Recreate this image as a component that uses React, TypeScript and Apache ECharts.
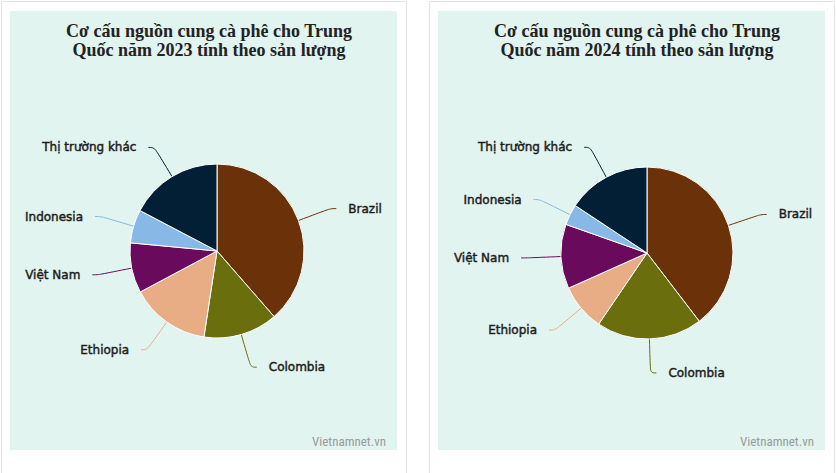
import React, { useEffect, useRef } from "react";
import * as echarts from "echarts";

const categories = ["Brazil", "Colombia", "Ethiopia", "Việt Nam", "Indonesia", "Thị trường khác"];
const values2023 = [38.6, 13.8, 14.8, 9.3, 6.2, 17.3];
const values2024 = [39.6, 19.9, 8.8, 12.1, 3.9, 15.7];
const colors = ["#6b3209", "#6a6e0c", "#e8ad85", "#6a0a5c", "#87b8e6", "#021f36"];
const titles = [
  "Cơ cấu nguồn cung cà phê cho Trung\nQuốc năm 2023 tính theo sản lượng",
  "Cơ cấu nguồn cung cà phê cho Trung\nQuốc năm 2024 tính theo sản lượng",
];
const watermark = "Vietnamnet.vn";

const MINT = "#e2f4ef";
const BORDER = "#e2e2e2";

function buildData(values: number[]) {
  return categories.map((name, i) => ({
    name,
    value: values[i],
    itemStyle: { color: colors[i] },
  }));
}

function pieSeries(values: number[], center: [number, number], radius: number) {
  return {
    type: "pie",
    center,
    radius,
    startAngle: 90,
    clockwise: true,
    avoidLabelOverlap: true,
    data: buildData(values),
    itemStyle: { borderColor: "#ffffff", borderWidth: 1 },
    label: {
      show: true,
      position: "outside",
      formatter: "{b}",
      color: "#1e1e1e",
      fontFamily: "DejaVu Sans",
      fontSize: 12,
      textBorderColor: "#1e1e1e",
      textBorderWidth: 0.45,
      padding: [5, 0, 0, 0],
      distanceToLabelLine: 12,
    },
    labelLine: {
      show: true,
      length: 34,
      length2: 6,
      smooth: 0.4,
      lineStyle: { width: 1 },
    },
    emphasis: { disabled: true },
  };
}

export default function App() {
  const ref = useRef<HTMLDivElement>(null);
  useEffect(() => {
    if (!ref.current) return;
    const chart = echarts.init(ref.current, undefined, { renderer: "svg" });
    const panels = [
      { ox: 1, ow: 405, mx: 10, mw: 387 },
      { ox: 429, ow: 405, mx: 438, mw: 387 },
    ];
    const graphics: any[] = [];
    panels.forEach((p) => {
      graphics.push({
        type: "rect",
        shape: { x: p.ox + 0.5, y: 1.5, width: p.ow, height: 480 },
        style: { fill: "#ffffff", stroke: BORDER, lineWidth: 1 },
        z: -10,
        silent: true,
      });
      graphics.push({
        type: "rect",
        shape: { x: p.mx, y: 11, width: p.mw, height: 439 },
        style: { fill: MINT },
        z: -9,
        silent: true,
      });
      graphics.push({
        type: "text",
        x: p.mx + p.mw - 11,
        y: 441,
        style: {
          text: watermark,
          fill: "#9a9a9a",
          font: '13px "Liberation Sans Narrow", "Roboto Condensed", sans-serif',
          align: "right",
          verticalAlign: "middle",
        },
        z: 5,
        silent: true,
      });
    });
    const titleStyle = {
      fontFamily: '"Liberation Serif", "Times New Roman", serif',
      fontWeight: "bold",
      fontSize: 18,
      lineHeight: 19,
      color: "#222222",
    };
    chart.setOption({
      animation: false,
      title: [
        { text: titles[0], left: 204, top: 16, textAlign: "center", textStyle: titleStyle },
        { text: titles[1], left: 632, top: 16, textAlign: "center", textStyle: titleStyle },
      ],
      graphic: graphics,
      series: [
        pieSeries(values2023, [217, 251], 87),
        pieSeries(values2024, [647, 253], 86),
      ],
    });
    return () => chart.dispose();
  }, []);
  return (
    <div
      ref={ref}
      style={{ position: "absolute", left: 0, top: 0, width: 836, height: 473, background: "#ffffff" }}
    />
  );
}
